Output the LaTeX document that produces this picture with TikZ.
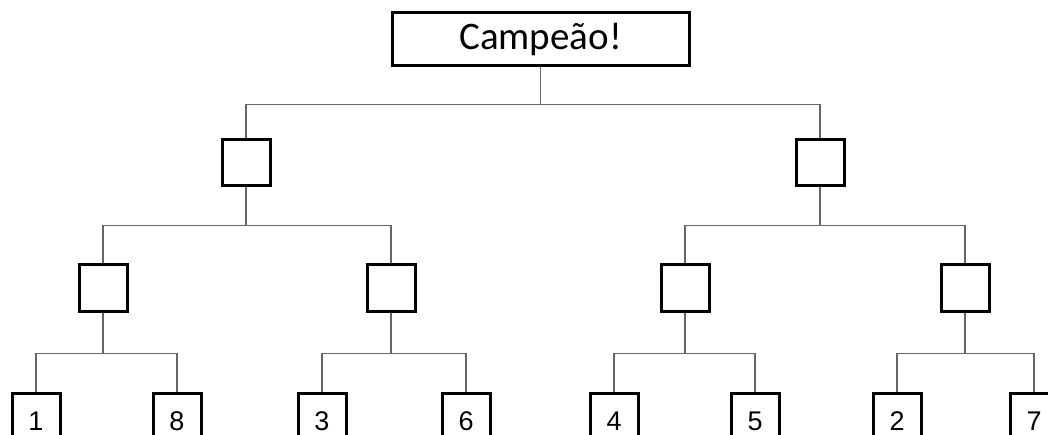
\documentclass[tikz,border=0pt]{standalone}
\usepackage{fontspec}
\setmainfont{Carlito}
\newfontfamily\arialfont{Liberation Sans}
\begin{document}
\begin{tikzpicture}[x=1pt,y=-1pt,
    box/.style={draw=black,line width=3pt,minimum width=48pt,minimum height=46pt,inner sep=0pt},
    leaf/.style={box,minimum height=56pt,font=\arialfont\fontsize{27}{27}\selectfont},
    line/.style={draw=black!60,line width=1.5pt}]

                \clip (0,0) rectangle (1048,435);

                \node[box,minimum width=297pt,minimum height=53pt,font=\fontsize{39}{42}\selectfont] (c) at (540.5,39.5){Campeão!};
                \node[box] (a) at (246,162.5){};
                \node[box] (b) at (820,162.5){};
                \node[box] (d) at (103,288){};
                \node[box] (e) at (391,288){};
                \node[box] (f) at (685,288){};
                \node[box] (g) at (965,288){};
                \node[leaf] (h) at (36,421){1};
                \node[leaf] (i) at (177,421){8};
                \node[leaf] (j) at (322,421){3};
                \node[leaf] (k) at (466,421){6};
                \node[leaf] (l) at (614,421){4};
                \node[leaf] (m) at (755,421){5};
                \node[leaf] (n) at (897,421){2};
                \node[leaf] (o) at (1034,421){7};

                \draw[line] (c.south) -- ++(0,37) -| (a.north) (c.south) -- ++(0,37) -| (b.north);
                \draw[line] (a.south) -- ++(0,38.5) -| (d.north) (a.south) -- ++(0,38.5) -| (e.north);
                \draw[line] (b.south) -- ++(0,38.5) -| (f.north) (b.south) -- ++(0,38.5) -| (g.north);
                \draw[line] (d.south) -- ++(0,41) -| (h.north) (d.south) -- ++(0,41) -| (i.north);
                \draw[line] (e.south) -- ++(0,41) -| (j.north) (e.south) -- ++(0,41) -| (k.north);
                \draw[line] (f.south) -- ++(0,41) -| (l.north) (f.south) -- ++(0,41) -| (m.north);
                \draw[line] (g.south) -- ++(0,41) -| (n.north) (g.south) -- ++(0,41) -| (o.north);

                \end{tikzpicture}
\end{document}
